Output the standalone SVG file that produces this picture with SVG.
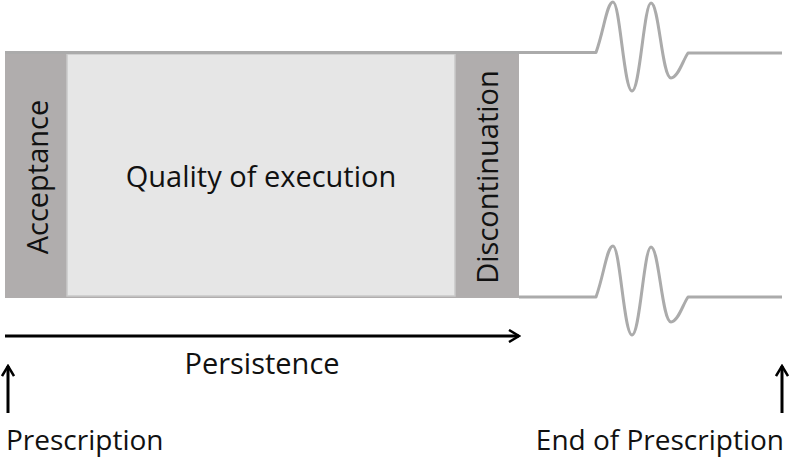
<svg xmlns="http://www.w3.org/2000/svg" width="790" height="458" viewBox="0 0 790 458">
<defs>
<style>
.band{fill:#b0adad}
.inner{fill:#e6e6e6;stroke:#c9c9c9;stroke-width:1.5}
.wave{fill:none;stroke:#ababab;stroke-width:3;stroke-linejoin:round}
.lbl{font-family:"Open Sans","Liberation Sans",sans-serif;font-size:29px;fill:#111}
.sm{font-size:28px}
.arr{stroke:#000;stroke-width:3;fill:none}
</style>
<marker id="ah" viewBox="0 0 14 14" refX="12" refY="7" markerWidth="14" markerHeight="14" markerUnits="userSpaceOnUse" orient="auto">
<path d="M2 1 L12 7 L2 13" fill="none" stroke="#000" stroke-width="2.5"/>
</marker>
</defs>
<rect width="790" height="458" fill="#fff"/>
<g id="box">
<rect class="band" x="5" y="52" width="514" height="246"/>
<rect class="inner" x="67" y="54" width="388" height="242"/>
</g>
<g id="acceptance"><text class="lbl" transform="translate(48,177) rotate(-90)" text-anchor="middle">Acceptance</text></g>
<g id="quality"><text class="lbl" x="261" y="187" text-anchor="middle">Quality of execution</text></g>
<g id="discontinuation"><text class="lbl" transform="translate(498,177) rotate(-90)" text-anchor="middle">Discontinuation</text></g>
<g id="waves">
<path class="wave" d="M5 52.5 H596 C604 30 607 2 613 2 C620 2 624 91 632 91 C640 91 644 3 651 3 C659 3 662 78 671 78 C678 78 683 60 688 53 H782"/>
<path class="wave" d="M519 297 H596 C604 275 607 246 613 246 C620 246 624 335 632 335 C640 335 644 247 651 247 C659 247 662 322 671 322 C678 322 683 304 688 297 H782"/>
</g>
<g id="connectors">
<line class="arr" x1="5" y1="336" x2="519" y2="336" marker-end="url(#ah)"/>
<line class="arr" x1="8" y1="413" x2="8" y2="366" marker-end="url(#ah)"/>
<line class="arr" x1="782" y1="413" x2="782" y2="366" marker-end="url(#ah)"/>
</g>
<g id="persistence"><text class="lbl" x="262" y="374" text-anchor="middle">Persistence</text></g>
<g id="prescription"><text class="lbl sm" x="6" y="450">Prescription</text></g>
<g id="end"><text class="lbl sm" x="784" y="450" text-anchor="end">End of Prescription</text></g>
</svg>
